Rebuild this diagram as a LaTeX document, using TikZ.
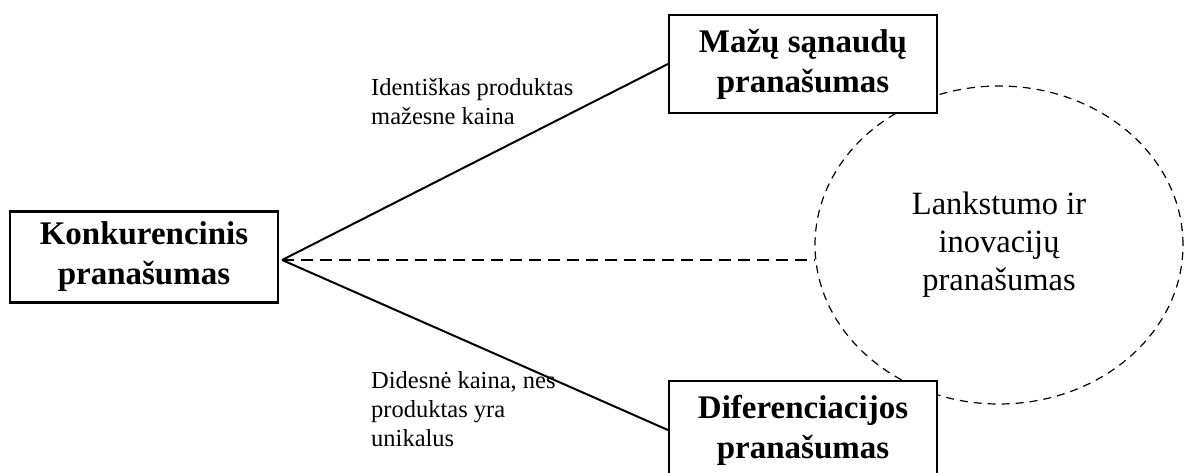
\documentclass[tikz,border=0pt]{standalone}
\usepackage{fontspec}
\setmainfont{Liberation Serif}
\usetikzlibrary{shapes.geometric}

\begin{document}
\begin{tikzpicture}[x=1pt,y=-1pt,
  box/.style={draw,line width=2.2pt,fill=white,minimum width=268pt,align=center,inner sep=0pt,
    font=\fontsize{33}{40}\selectfont\bfseries},
  note/.style={anchor=north west,align=left,inner sep=0pt,font=\fontsize{24.5}{29}\selectfont}]
\clip (0,0) rectangle (1190,473);
% dashed circle first, the boxes cover it
\node[ellipse,draw,dashed,line width=1.2pt,dash pattern=on 8pt off 6pt,minimum width=368pt,minimum height=318pt,
  align=center,font=\fontsize{32.5}{38}\selectfont] (flex) at (999,245) {Lankstumo ir\\inovacijų\\pranašumas};
\node[box,minimum height=91pt] (comp) at (144,257) {Konkurencinis\\pranašumas};
\node[box,minimum height=98pt] (low) at (803,64) {Mažų sąnaudų\\pranašumas};
\node[box,minimum height=98pt] (diff) at (803,430) {Diferenciacijos\\pranašumas};
\coordinate (hub) at ([xshift=3pt,yshift=-3pt]comp.east);
\draw[line width=2pt] (hub) -- (low.west);
\draw[line width=2pt] (hub) -- (diff.west);
\draw[line width=2pt,dashed,dash pattern=on 12pt off 7pt] (hub) -- (hub -| flex.west);
\node[note] (lowtxt) at (371,78) {Identiškas produktas\\mažesne kaina};
\node[note] (difftxt) at (371,371) {Didesnė kaina, nes\\produktas yra\\unikalus};
\end{tikzpicture}
\end{document}
